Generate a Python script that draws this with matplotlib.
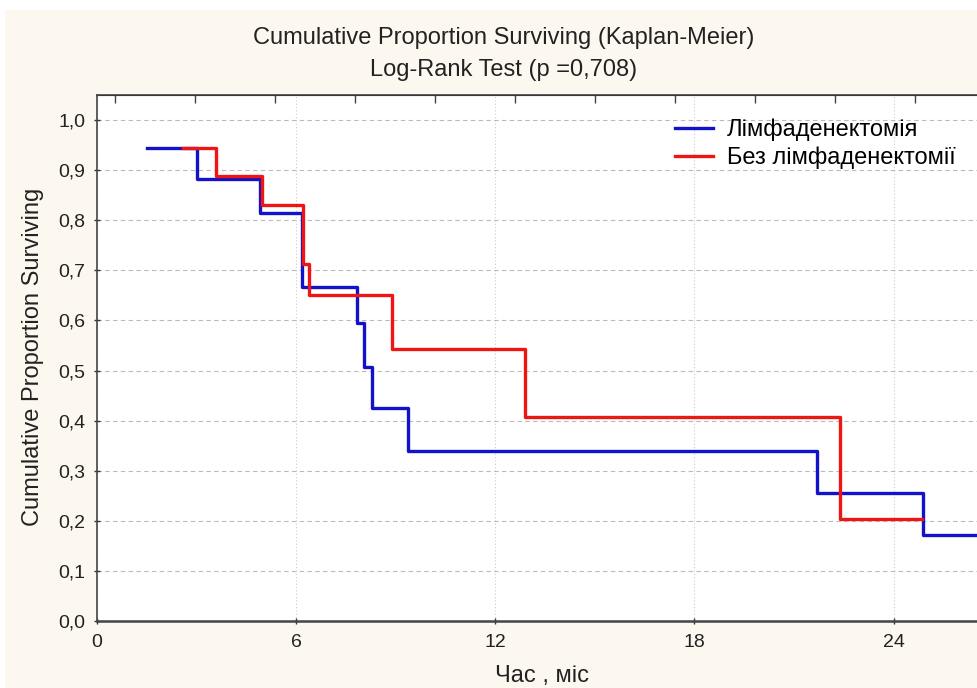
import matplotlib.pyplot as plt
from matplotlib.patches import Rectangle

# survival steps, time in months
lymph_t = [1.5, 3.0, 4.9, 6.17, 7.83, 8.04, 8.28, 9.37, 21.7, 24.88, 28.0]
lymph_s = [0.944, 0.882, 0.814, 0.666, 0.595, 0.507, 0.425, 0.339, 0.255, 0.172, 0.172]

nolymph_t = [2.6, 3.58, 4.97, 6.2, 6.4, 8.9, 12.9, 22.4, 24.85]
nolymph_s = [0.944, 0.889, 0.830, 0.712, 0.651, 0.543, 0.407, 0.204, 0.204]

names = ["Лімфаденектомія", "Без лімфаденектомії"]
xticks = [0, 6, 12, 18, 24]
yticks = [0.0, 0.1, 0.2, 0.3, 0.4, 0.5, 0.6, 0.7, 0.8, 0.9, 1.0]
top_ticks = [0.54, 2.95, 5.36, 7.77, 10.18, 12.59, 15.0, 17.41, 19.82, 22.23, 24.64]

plt.rcParams['font.family'] = ['Liberation Sans', 'DejaVu Sans']

fig = plt.figure(figsize=(9.78, 6.88), dpi=100, facecolor='white')
fig.patches.append(Rectangle((0.005, 0), 1, 0.985, transform=fig.transFigure,
                             facecolor='#fdf8ef', edgecolor='none', zorder=-10))

# axes run past the right edge of the figure
ax = fig.add_axes([0.0992, 0.0974, 1.018, 0.7645])
ax.set_facecolor('white')
ax.set_xlim(0, 30)
ax.set_ylim(0, 1.05)

ax.step(lymph_t, lymph_s, where='post', color='#1212c8', lw=2.4, label=names[0])
ax.step(nolymph_t, nolymph_s, where='post', color='#ee1515', lw=2.4, label=names[1])

ax.set_xticks(xticks)
ax.set_xticklabels([str(v) for v in xticks])
ax.set_yticks(yticks)
ax.set_yticklabels(["{:.1f}".format(v).replace('.', ',') for v in yticks])
ax.tick_params(direction='inout', length=5, width=1, colors='#333333',
               labelsize=14, labelcolor='#222222', pad=6)
ax.tick_params(axis='x', pad=7)

ax.yaxis.grid(True, color='#bbbbbb', lw=0.8, ls=(0, (4, 3)))
ax.xaxis.grid(True, color='#cccccc', lw=0.8, ls=(0, (1, 2)))
ax.set_axisbelow(True)

for side in ['left', 'top', 'bottom']:
    ax.spines[side].set_color('#444444')
ax.spines['bottom'].set_linewidth(1.8)
ax.spines['left'].set_linewidth(1.2)
ax.spines['top'].set_linewidth(1.2)

top = ax.secondary_xaxis('top')
top.set_xticks(top_ticks)
top.set_xticklabels([])
top.tick_params(direction='in', length=6, width=1, colors='#444444')

fig.text(0.515, 0.945, "Cumulative Proportion Surviving (Kaplan-Meier)",
         ha='center', va='center', fontsize=17, color='#222222')
fig.text(0.515, 0.898, "Log-Rank Test (p =0,708)",
         ha='center', va='center', fontsize=17, color='#222222')
fig.text(0.034, 0.482, "Cumulative Proportion Surviving", rotation=90,
         ha='center', va='center', fontsize=17, color='#222222')
fig.text(0.554, 0.001, "Час , міс", ha='center', va='bottom',
         fontsize=17, color='#222222')

fig.legend(loc='upper left', bbox_to_anchor=(0.678, 0.845), frameon=False,
           fontsize=17, handlelength=1.6, handletextpad=0.6, labelspacing=0.25,
           borderpad=0)

fig.savefig("out.png", dpi=100)
